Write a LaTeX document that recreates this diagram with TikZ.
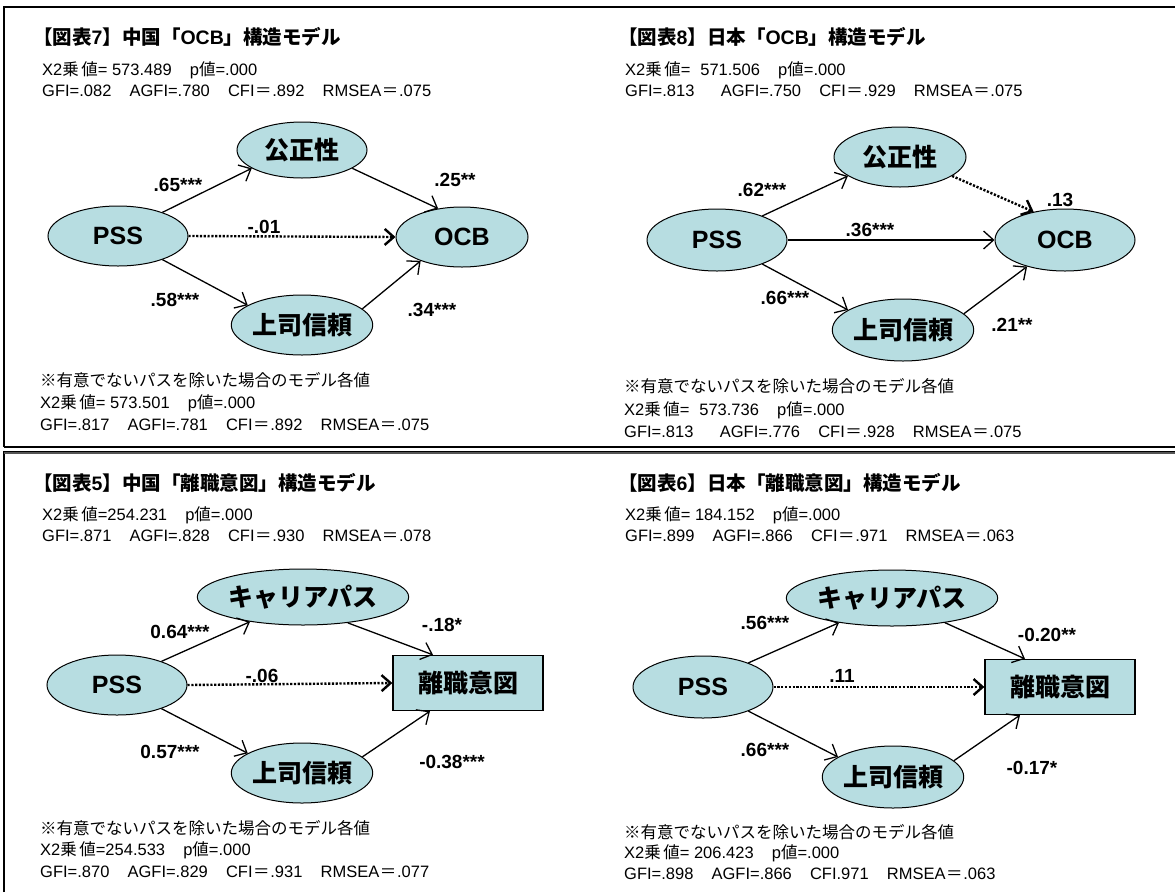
\documentclass[tikz,border=0pt]{standalone}
\usepackage{fontspec}
\setmainfont{Liberation Sans}
\newfontfamily\jp{Noto Sans CJK JP}
\usetikzlibrary{arrows.meta,shapes.geometric}
\newcommand{\J}[1]{{\jp #1}}
\newcommand{\gap}{\hspace{1.1em}}
\newcommand{\xq}{X2\J{乗}\hspace{0.15em}\J{値}}
\newcommand{\eqj}{\hspace{0.04em}\J{＝}\hspace{0.04em}}
\definecolor{nodefill}{RGB}{183,221,225}
\definecolor{framegray}{RGB}{85,85,85}
\begin{document}
\begin{tikzpicture}[x=1pt,y=-1pt,
  ell/.style={ellipse, draw=black, line width=1pt, fill=nodefill, inner sep=0pt, font=\fontsize{25}{27}\selectfont\bfseries},
  boxnode/.style={rectangle, draw=black, line width=1.3pt, fill=nodefill, inner sep=0pt, font=\fontsize{25}{27}\selectfont\bfseries},
  txt/.style={anchor=west, inner sep=0pt, font=\fontsize{16.5}{18}\selectfont},
  ttl/.style={anchor=west, inner sep=0pt, font=\fontsize{19.5}{21}\selectfont\bfseries},
  lab/.style={inner sep=0pt, font=\fontsize{19}{21}\selectfont\bfseries},
  arr/.style={line width=1.3pt, -{Straight Barb[length=10pt,width=18pt]}},
  dotarr/.style={line width=2.4pt, dash pattern=on 2.2pt off 1.6pt, -{Straight Barb[length=9pt,width=16pt]}},
  frame/.style={line width=1.5pt, black}
]
\useasboundingbox (0,0) rectangle (1175,892);
% frames
\draw[frame] (4,892) -- (4,452) -- (1175,452);
\draw[frame] (4,447) -- (4,7) -- (1175,7);
\draw[frame] (4,447) -- (1175,447);
\draw[line width=2pt, framegray] (4,453) -- (1175,453);

%%%%%%%%%%%%%%%% Panel TL
\node[ttl] (tA) at (33,37) {\J{【図表}7\J{】中国「}OCB\J{」構造モデル}};
\node[txt] (sA1) at (42,70) {\xq= 573.489\gap p\J{値}=.000};
\node[txt] (sA2) at (42,91) {GFI=.082\gap AGFI=.780\gap CFI\eqj.892\gap RMSEA\eqj.075};
\node[ell, minimum width=130pt, minimum height=56pt] (fairA) at (302,150) {\J{公正性}};
\node[ell, minimum width=140pt, minimum height=60pt] (pssA) at (118,236) {PSS};
\node[ell, minimum width=132pt, minimum height=60pt] (ocbA) at (462,237) {OCB};
\node[ell, minimum width=132pt, minimum height=60pt] (bossA) at (302,325) {\J{上司信頼}};
\draw[arr] (pssA.28) -- (fairA.200);
\draw[arr] (fairA.-20) -- (ocbA.130);
\draw[dotarr] (pssA.east) -- (ocbA.west);
\draw[arr] (pssA.-28) -- (bossA.160);
\draw[arr] (bossA.15) -- (ocbA.210);
\node[lab] (lA1) at (178,185) {.65***};
\node[lab] (lA2) at (455,180) {.25**};
\node[lab] (lA3) at (264,227) {-.01};
\node[lab] (lA4) at (175,300) {.58***};
\node[lab] (lA5) at (432,310) {.34***};
\node[txt] (bA1) at (40,380) {\J{※有意でないパスを除いた場合のモデル各値}};
\node[txt] (bA2) at (40,403) {\xq= 573.501\gap p\J{値}=.000};
\node[txt] (bA3) at (40,425) {GFI=.817\gap AGFI=.781\gap CFI\eqj.892\gap RMSEA\eqj.075};

%%%%%%%%%%%%%%%% Panel TR
\node[ttl] (tB) at (618,37) {\J{【図表}8\J{】日本「}OCB\J{」構造モデル}};
\node[txt] (sB1) at (625,70) {\xq=\hspace{0.6em}571.506\gap p\J{値}=.000};
\node[txt] (sB2) at (625,91) {GFI=.813\gap\hspace{0.5em}AGFI=.750\gap CFI\eqj.929\gap RMSEA\eqj.075};
\node[ell, minimum width=132pt, minimum height=60pt] (fairB) at (900,157) {\J{公正性}};
\node[ell, minimum width=140pt, minimum height=62pt] (pssB) at (717,240) {PSS};
\node[ell, minimum width=140pt, minimum height=62pt] (ocbB) at (1065,240) {OCB};
\node[ell, minimum width=135pt, minimum height=62pt] (bossB) at (903,330) {\J{上司信頼}};
\draw[arr] (pssB.28) -- (fairB.200);
\draw[dotarr] (fairB.-20) -- (ocbB.138);
\draw[arr] (pssB.east) -- (ocbB.west);
\draw[arr] (pssB.-28) -- (bossB.160);
\draw[arr] (bossB.15) -- (ocbB.215);
\node[lab] (lB1) at (762,190) {.62***};
\node[lab] (lB2) at (1060,200) {.13};
\node[lab] (lB3) at (870,230) {.36***};
\node[lab] (lB4) at (785,298) {.66***};
\node[lab] (lB5) at (1012,325) {.21**};
\node[txt] (bB1) at (624,386) {\J{※有意でないパスを除いた場合のモデル各値}};
\node[txt] (bB2) at (624,410) {\xq=\hspace{0.6em}573.736\gap p\J{値}=.000};
\node[txt] (bB3) at (624,432) {GFI=.813\gap\hspace{0.5em}AGFI=.776\gap CFI\eqj.928\gap RMSEA\eqj.075};

%%%%%%%%%%%%%%%% Panel BL
\node[ttl] (tC) at (33,483) {\J{【図表}5\J{】中国「離職意図」構造モデル}};
\node[txt] (sC1) at (42,515) {\xq=254.231\gap p\J{値}=.000};
\node[txt] (sC2) at (42,536) {GFI=.871\gap AGFI=.828\gap CFI\eqj.930\gap RMSEA\eqj.078};
\node[ell, minimum width=135pt, minimum height=56pt] (carC) at (303,597) {\J{キャリアパス}};
\node[ell, minimum width=140pt, minimum height=60pt] (pssC) at (117,685) {PSS};
\node[boxnode, minimum width=150pt, minimum height=55pt] (intC) at (468,683) {\J{離職意図}};
\node[ell, minimum width=132pt, minimum height=60pt] (bossC) at (302,773) {\J{上司信頼}};
\draw[arr] (pssC.28) -- (carC.205);
\draw[arr] (carC.-30) -- ([xshift=-35pt]intC.north);
\draw[dotarr] (pssC.east) -- (intC.west);
\draw[arr] (pssC.-28) -- (bossC.160);
\draw[arr] (bossC.15) -- ([xshift=-38pt]intC.south);
\node[lab] (lC1) at (180,632) {0.64***};
\node[lab] (lC2) at (442,625) {-.18*};
\node[lab] (lC3) at (262,676) {-.06};
\node[lab] (lC4) at (170,752) {0.57***};
\node[lab] (lC5) at (452,762) {-0.38***};
\node[txt] (bC1) at (40,828) {\J{※有意でないパスを除いた場合のモデル各値}};
\node[txt] (bC2) at (40,850) {\xq=254.533\gap p\J{値}=.000};
\node[txt] (bC3) at (40,872) {GFI=.870\gap AGFI=.829\gap CFI\eqj.931\gap RMSEA\eqj.077};

%%%%%%%%%%%%%%%% Panel BR
\node[ttl] (tD) at (618,483) {\J{【図表}6\J{】日本「離職意図」構造モデル}};
\node[txt] (sD1) at (625,515) {\xq= 184.152\gap p\J{値}=.000};
\node[txt] (sD2) at (625,536) {GFI=.899\gap AGFI=.866\gap CFI\eqj.971\gap RMSEA\eqj.063};
\node[ell, minimum width=135pt, minimum height=56pt] (carD) at (892,598) {\J{キャリアパス}};
\node[ell, minimum width=140pt, minimum height=62pt] (pssD) at (703,687) {PSS};
\node[boxnode, minimum width=150pt, minimum height=55pt] (intD) at (1060,687) {\J{離職意図}};
\node[ell, minimum width=135pt, minimum height=62pt] (bossD) at (893,777) {\J{上司信頼}};
\draw[arr] (pssD.28) -- (carD.205);
\draw[arr] (carD.-25) -- ([xshift=-35pt]intD.north);
\draw[dotarr] (pssD.east) -- (intD.west);
\draw[arr] (pssD.-28) -- (bossD.160);
\draw[arr] (bossD.15) -- ([xshift=-40pt]intD.south);
\node[lab] (lD1) at (765,623) {.56***};
\node[lab] (lD2) at (1047,635) {-0.20**};
\node[lab] (lD3) at (842,676) {.11};
\node[lab] (lD4) at (765,750) {.66***};
\node[lab] (lD5) at (1032,768) {-0.17*};
\node[txt] (bD1) at (624,832) {\J{※有意でないパスを除いた場合のモデル各値}};
\node[txt] (bD2) at (624,853) {\xq= 206.423\gap p\J{値}=.000};
\node[txt] (bD3) at (624,874) {GFI=.898\gap AGFI=.866\gap CFI.971\gap RMSEA\eqj.063};
\end{tikzpicture}
\end{document}
